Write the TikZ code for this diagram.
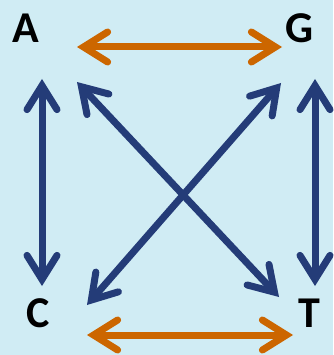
\documentclass[tikz,border=0pt]{standalone}
\usepackage{fontspec}
\setmainfont{Carlito}
\usetikzlibrary{arrows.meta}
\definecolor{bgblue}{RGB}{208,236,244}
\definecolor{dblue}{RGB}{36,60,120}
\definecolor{orng}{RGB}{204,102,0}
\tikzset{
  base/.style={inner sep=0pt, font=\fontsize{44}{44}\selectfont\bfseries},
  dbl/.style={line width=7pt, {Straight Barb[length=24pt,width=30pt,line cap=round,line join=miter]}-{Straight Barb[length=24pt,width=30pt,line cap=round,line join=miter]}},
  bluearr/.style={dbl, draw=dblue},
  orarr/.style={dbl, draw=orng},
}
\begin{document}
\begin{tikzpicture}[x=1pt,y=-1pt]
\fill[bgblue] (0,0) rectangle (333,355);
\useasboundingbox (0,0) rectangle (333,355);
\node[base] (A) at (26,28) {A};
\node[base] (G) at (300,28) {G};
\node[base] (C) at (38,313) {C};
\node[base] (T) at (309,313) {T};
\coordinate (o1) at (77,47);
\coordinate (o2) at (282,47);
\coordinate (o3) at (87,335);
\coordinate (o4) at (293,335);
\coordinate (v1) at (42,79);
\coordinate (v2) at (42,286);
\coordinate (v3) at (315,79);
\coordinate (v4) at (315,286);
\coordinate (d1) at (77,82);
\coordinate (d2) at (279,297);
\coordinate (d3) at (281,83);
\coordinate (d4) at (87,305);
\draw[orarr] (o1) -- (o2);
\draw[orarr] (o3) -- (o4);
\draw[bluearr] (v1) -- (v2);
\draw[bluearr] (v3) -- (v4);
\draw[bluearr] (d1) -- (d2);
\draw[bluearr] (d3) -- (d4);
\end{tikzpicture}
\end{document}
